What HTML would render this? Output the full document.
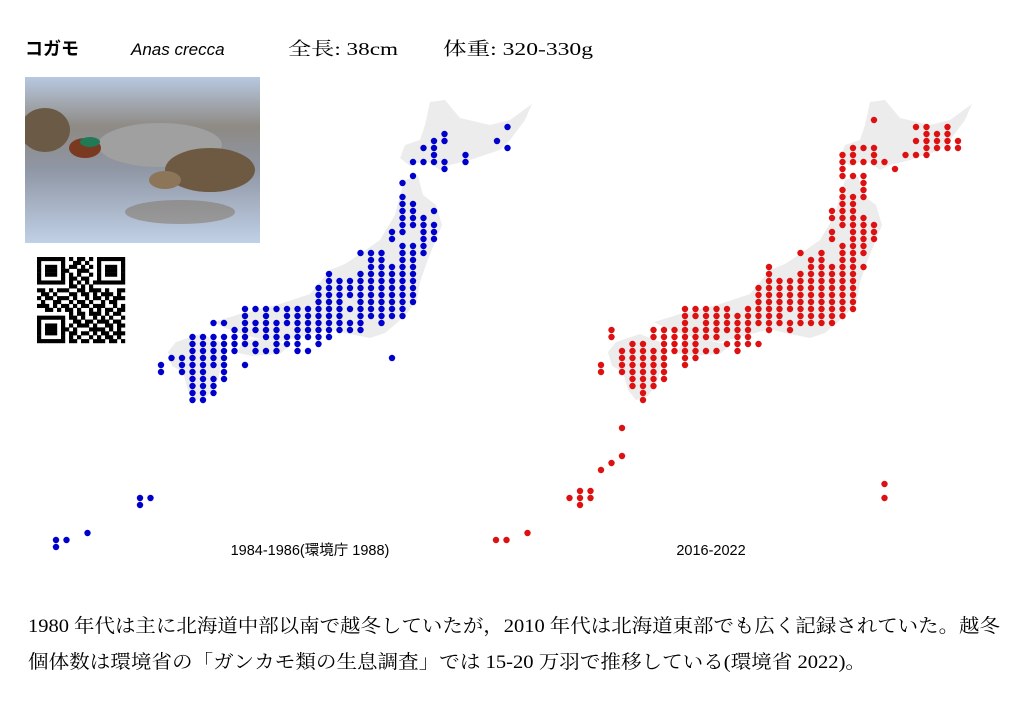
<!DOCTYPE html>
<html><head><meta charset="utf-8"><style>
html,body{margin:0;padding:0;background:#fff;width:1024px;height:727px;overflow:hidden}
svg{display:block}
.serif{font-family:"Liberation Serif","Noto Serif CJK SC",serif}
.sans{font-family:"Liberation Sans","Noto Sans CJK JP",sans-serif}
</style></head><body>
<svg id="page" width="1024" height="727" viewBox="0 0 1024 727">
  <text x="25" y="55" class="sans" font-size="18" font-weight="bold">コガモ</text>
  <text x="131" y="55" class="sans" font-size="17" font-style="italic">Anas crecca</text>
  <text x="288" y="55" class="serif" font-size="18" textLength="110" lengthAdjust="spacingAndGlyphs">全長: 38cm</text>
  <text x="443" y="55" class="serif" font-size="18" textLength="150" lengthAdjust="spacingAndGlyphs">体重: 320-330g</text>

  <g>
    <defs>
      <linearGradient id="water" x1="0" y1="0" x2="0" y2="1">
        <stop offset="0" stop-color="#b8c8e0"/><stop offset="0.3" stop-color="#8e8a84"/>
        <stop offset="0.55" stop-color="#8f96a4"/><stop offset="1" stop-color="#c0d0e6"/>
      </linearGradient>
      <clipPath id="photoClip"><rect x="25" y="77" width="235" height="166"/></clipPath>
    </defs>
    <g clip-path="url(#photoClip)">
    <rect x="25" y="77" width="235" height="166" fill="url(#water)"/>
    <ellipse cx="45" cy="130" rx="25" ry="22" fill="#6b5a45"/>
    <ellipse cx="160" cy="145" rx="62" ry="22" fill="#a0a0a0"/>
    <ellipse cx="85" cy="148" rx="16" ry="10" fill="#7a3a22"/>
    <ellipse cx="90" cy="142" rx="10" ry="5" fill="#1f7a55"/>
    <ellipse cx="210" cy="170" rx="45" ry="22" fill="#6e5a42"/>
    <ellipse cx="165" cy="180" rx="16" ry="9" fill="#8c7558"/>
    <ellipse cx="180" cy="212" rx="55" ry="12" fill="#7d7060" opacity="0.5"/>
    </g>
  </g>

  <g id="qr"></g>

  <g id="mapBlue"></g>
  <g id="mapRed"></g>

  <text x="310" y="555" text-anchor="middle" class="sans" font-size="14.5">1984-1986(環境庁 1988)</text>
  <text x="711" y="555" text-anchor="middle" class="sans" font-size="14.5">2016-2022</text>

  <text x="28" y="632" class="serif" font-size="19" textLength="972" lengthAdjust="spacingAndGlyphs">1980 年代は主に北海道中部以南で越冬していたが，2010 年代は北海道東部でも広く記録されていた。越冬</text>
  <text x="28" y="668" class="serif" font-size="19" textLength="838" lengthAdjust="spacingAndGlyphs">個体数は環境省の「ガンカモ類の生息調査」では 15-20 万羽で推移している(環境省 2022)。</text>
</svg>
<script>
// grid rows: [row, [cols]]
const blueRows = [
 [0,[33]],[1,[27]],[2,[26,27,32]],[3,[25,26,33]],[4,[26,29]],[5,[24,25,26,27,29]],[6,[27]],[7,[24]],[8,[23]],
 [10,[23]],[11,[23,24]],[12,[23,24,26]],[13,[23,24,25]],[14,[23,24,25,26]],[15,[22,23,25,26]],[16,[22,25,26]],
 [17,[23,24,25]],[18,[19,20,21,23,24,25]],[19,[20,21,23,24]],[20,[20,21,22,23,24]],[21,[16,19,20,21,22,23,24]],
 [22,[16,17,18,19,20,21,22,23,24]],[23,[15,16,17,18,19,20,21,22,23,24]],[24,[15,16,17,18,19,20,21,22,23,24]],
 [25,[15,16,17,19,20,21,22,23,24]],[26,[8,9,10,11,12,13,14,15,16,17,18,19,20,21,22,23]],
 [27,[8,10,12,13,14,15,16,17,19,20,21,22,23]],[28,[5,6,8,9,10,11,12,13,14,15,16,17,18,19,21]],
 [29,[7,8,9,10,11,13,14,15,16,17,18,19]],[30,[3,4,5,6,7,8,10,11,12,13,14,15,16]],
 [31,[3,4,5,6,7,8,9,11,12,13,15]],[32,[3,4,5,6,7,9,10,11,13,14]],[33,[1,2,3,4,5,6,22]],
 [34,[0,2,3,4,5,6,8]],[35,[0,2,3,4,6]],[36,[3,4,5,6]],[37,[3,4,5]],[38,[3,4,5]],[39,[3,4]],
 [53,[-2,-1]],[54,[-2]],[58,[-7]],[59,[-10,-9]],[60,[-10]]
];
const redRows = [
 [-1,[26]],[0,[30,31,33]],[1,[31,32,33]],[2,[30,31,32,33,34]],[3,[24,25,26,31,32,33,34]],[4,[23,24,26,29,30,31]],
 [5,[23,24,25,26,27]],[6,[23,28]],[7,[23,24,25]],[8,[25]],[9,[23,25]],[10,[23,24,25]],[11,[23,24]],[12,[22,23,24]],
 [13,[22,23,24,25]],[14,[23,24,25,26]],[15,[22,24,25,26]],[16,[22,24,25,26]],[17,[23,24,25]],[18,[19,21,23,24,25]],
 [19,[20,21,23,24]],[20,[16,20,21,22,23,24,25]],[21,[16,19,20,21,22,23,24]],[22,[16,17,18,19,20,21,22,23,24]],
 [23,[15,16,17,18,19,20,21,22,23,24]],[24,[15,16,17,18,19,20,21,22,23,24]],[25,[15,16,17,18,19,20,21,22,23,24]],
 [26,[8,9,10,11,12,14,15,16,17,18,19,20,21,22,23,24]],[27,[8,9,10,11,12,13,14,15,16,17,19,20,21,22,23]],
 [28,[8,10,11,12,13,14,15,16,17,18,19,20,21,22]],[29,[1,5,6,7,8,9,10,11,12,13,14,16,18]],
 [30,[1,5,6,7,8,9,10,11,13,14]],[31,[3,4,6,7,8,9,12,13,14,15]],[32,[2,3,4,5,6,7,8,9,10,11,13]],
 [33,[2,3,4,5,6,8,9]],[34,[0,2,3,4,5,6,8]],[35,[0,2,3,4,5,6]],[36,[3,4,5,6]],[37,[3,4,5]],[38,[4]],[39,[4]],
 [43,[2]],[47,[2]],[48,[1]],[49,[0]],[51,[27]],[52,[-2,-1]],[53,[-3,-2,-1,27]],[54,[-2]],[58,[-7]],[59,[-10,-9]]
];
const NS='http://www.w3.org/2000/svg';
const COL_W=10.5, ROW_H=7.0;
function xScale(col,x0){return x0+col*COL_W;}
function yScale(row){return 127+row*ROW_H;}
const land = [
 "M430,102 L445,100 L460,118 L490,125 L510,120 L532,104 L525,120 L510,140 L500,150 L470,160 L450,165 L440,170 L425,160 L410,166 L400,158 L405,145 L420,140 L425,125 Z",
 "M405,180 L418,176 L423,195 L436,205 L442,225 L435,242 L427,262 L420,282 L417,300 L408,312 L398,322 L385,333 L370,338 L345,333 L330,329 L300,337 L280,342 L255,338 L240,333 L225,328 L214,322 L240,314 L280,304 L310,294 L330,270 L345,264 L360,254 L380,240 L395,215 L400,195 Z",
 "M242,340 L262,339 L290,345 L280,354 L252,356 L238,353 Z",
 "M176,342 L200,334 L220,342 L222,360 L218,380 L208,396 L196,400 L188,390 L183,372 L172,366 L168,352 Z"
];
function drawMap(gid,rows,x0,dx,color){
  const g=document.getElementById(gid);
  land.forEach((d,i)=>{
    const p=document.createElementNS(NS,'path');
    p.setAttribute('d',d);p.setAttribute('fill','#ececec');
    p.setAttribute('transform','translate('+dx+',0)');
    
    
    g.appendChild(p);
  });
  rows.forEach(r=>{
    r[1].forEach(c=>{
      const e=document.createElementNS(NS,'circle');
      e.setAttribute('cx',xScale(c,x0));e.setAttribute('cy',yScale(r[0]));
      e.setAttribute('r',3.2);e.setAttribute('fill',color);
      
      
      g.appendChild(e);
    });
  });
}
drawMap('mapBlue',blueRows,161,0,'#0000cc');
drawMap('mapRed',redRows,601,440,'#dd1111');

// QR-like pattern
const qrBits = [
"1111111010110101111111","1000001001101001000001","1011101011010101011101","1011101100111001011101",
"1011101010100101011101","1000001011011001000001","1111111010101011111111","0000000011010100000000",
"1101011100110111010011","0110100011011010111010","1011011101001011010111","0100110010110100101100",
"1110101101011011100101","0011010110100101011011","0000000010110111010110","1111111011010010101001",
"1000001001101101110110","1011101010111010011011","1011101101000111101010","1011101011011010110111",
"1000001010100101011010","1111111011011011101101"];
(function(){
  const g=document.getElementById('qr');
  const s=88/22;
  qrBits.forEach((row,ri)=>{
    for(let ci=0;ci<row.length;ci++){
      if(row[ci]==='1'){
        const r=document.createElementNS(NS,'rect');
        r.setAttribute('x',37+ci*s);r.setAttribute('y',257+ri*s*86/88);
        r.setAttribute('width',s+0.2);r.setAttribute('height',s*86/88+0.2);r.setAttribute('fill','#000');
        
        
        g.appendChild(r);
      }
    }
  });
})();
</script>
</body></html>
